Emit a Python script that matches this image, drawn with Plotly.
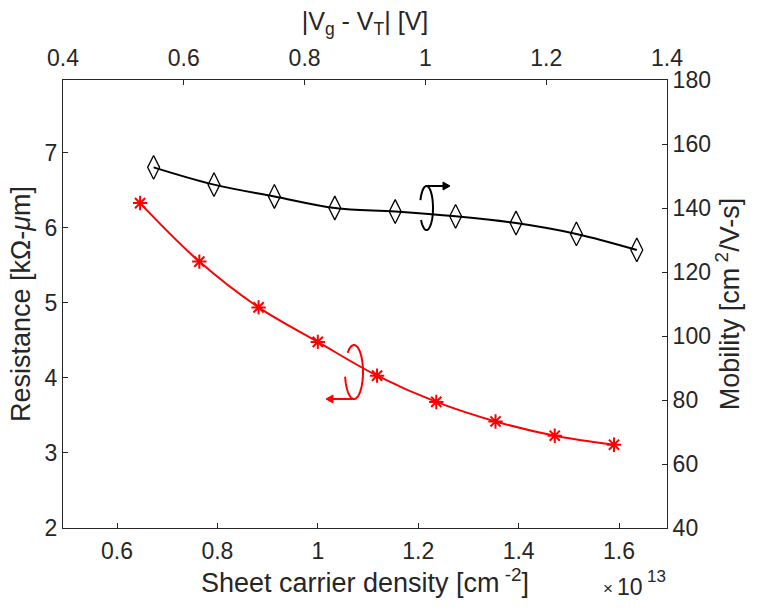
import numpy as np
import plotly.graph_objects as go

# ---- data ----
sheet_density = [0.646, 0.764, 0.882, 1.000, 1.118, 1.236, 1.354, 1.472, 1.590]  # x1e13 cm^-2
resistance = [6.33, 5.55, 4.94, 4.48, 4.03, 3.68, 3.42, 3.23, 3.11]              # kOhm-um
overdrive = [0.55, 0.65, 0.75, 0.85, 0.95, 1.05, 1.15, 1.25, 1.35]             # |Vg-VT| V
mobility = [152.7, 147.3, 143.6, 140.0, 138.9, 137.4, 135.3, 131.9, 126.9]      # cm^2/V-s

bottom_ticks = [0.6, 0.8, 1.0, 1.2, 1.4, 1.6]
bottom_labels = ["0.6", "0.8", "1", "1.2", "1.4", "1.6"]
left_ticks = [2, 3, 4, 5, 6, 7]

FONT = "Liberation Sans, Arial, sans-serif"
TXT = "#262626"
FS = 23      # tick labels
FT = 27      # axis titles

# plot area in pixels
L, R, T, B = 63, 667, 80, 528
W, H = 760, 611

def to_paper(px, py):
    return (px - L) / (R - L), (B - py) / (B - T)

fig = go.Figure()

fig.add_trace(go.Scatter(
    x=sheet_density, y=resistance, xaxis="x", yaxis="y",
    mode="lines+markers", line=dict(color="red", width=2, shape="spline"),
    marker=dict(symbol="asterisk-open", size=12, color="red", line=dict(color="red", width=2)),
    showlegend=False))

fig.add_trace(go.Scatter(
    x=overdrive, y=mobility, xaxis="x2", yaxis="y2",
    mode="lines+markers", line=dict(color="black", width=2, shape="spline"),
    marker=dict(symbol="diamond-tall-open", size=17, color="black",
                line=dict(color="black", width=1.3)),
    showlegend=False))

def axis_common(title_size=FT):
    return dict(showline=True, linecolor=TXT, linewidth=1, ticks="inside",
                ticklen=5, tickcolor=TXT, showgrid=False, zeroline=False,
                tickfont=dict(family=FONT, size=FS, color=TXT),
                title_font=dict(family=FONT, size=title_size, color=TXT))

fig.update_layout(
    width=W, height=H,
    margin=dict(l=L, r=W - R, t=T, b=H - B, autoexpand=False),
    plot_bgcolor="white", paper_bgcolor="white",
    xaxis=dict(range=[0.4924, 1.6956], tickvals=bottom_ticks, ticktext=bottom_labels,
               ticklabelstandoff=2,
               title=dict(text="Sheet carrier density [cm<sup> -2</sup>]", standoff=5),
               **axis_common()),
    xaxis2=dict(range=[0.4, 1.4], dtick=0.2, tick0=0.4, overlaying="x", side="top",
                ticklabelstandoff=4,
                title=dict(text="|V<sub>g</sub> - V<sub>T</sub>| [V]", standoff=7),
                **axis_common(25)),
    yaxis=dict(range=[2, 7.97], tickvals=left_ticks,
               title=dict(text="Resistance [kΩ-<i>μ</i>m]", standoff=6),
               **axis_common()),
    yaxis2=dict(range=[40, 180], dtick=20, overlaying="y", side="right",
                title=dict(text="Mobility [cm<sup> 2</sup>/V-s]", standoff=6),
                **axis_common()),
)

# ---- curved arrow symbols ----
def pts_path(pts, close=False):
    pp = [to_paper(x, y) for x, y in pts]
    s = "M " + " L ".join(f"{x:.5f},{y:.5f}" for x, y in pp)
    return s + (" Z" if close else "")

def loop(cx, cy, rx, ry, t0, t1, color):
    t = np.radians(np.linspace(t0, t1, 60))
    pts = [(cx + rx * np.cos(a), cy + ry * np.sin(a)) for a in t]
    fig.add_shape(type="path", xref="paper", yref="paper", path=pts_path(pts),
                  line=dict(color=color, width=2))

def arrow(p0, p1, color, head=7, half=4):
    d = 1 if p1[0] > p0[0] else -1
    base = p1[0] - d * head
    fig.add_shape(type="path", xref="paper", yref="paper",
                  path=pts_path([p0, (base, p1[1])]), line=dict(color=color, width=2))
    fig.add_shape(type="path", xref="paper", yref="paper",
                  path=pts_path([p1, (base, p1[1] - half), (base, p1[1] + half)], close=True),
                  fillcolor=color, line=dict(color=color, width=1))

# black (points right -> right axis)
loop(426.5, 208, 6.5, 22, 201, 507, "black")
arrow((427, 186), (450, 186), "black")

# red (points left -> left axis)
loop(354, 372, 9, 27, 225, 530, "red")
arrow((354, 399), (326, 399), "red")

# exponent label (x10^13)
def label(px, py, text, size):
    x, y = to_paper(px, py)
    fig.add_annotation(x=x, y=y, xref="paper", yref="paper", xanchor="left",
                       yanchor="middle", text=text, showarrow=False,
                       font=dict(family=FONT, size=size, color=TXT))

label(601, 588, "×", 17)
label(615, 587, "10", 23)
label(645, 576, "13", 17)

fig.write_html("out.html")
